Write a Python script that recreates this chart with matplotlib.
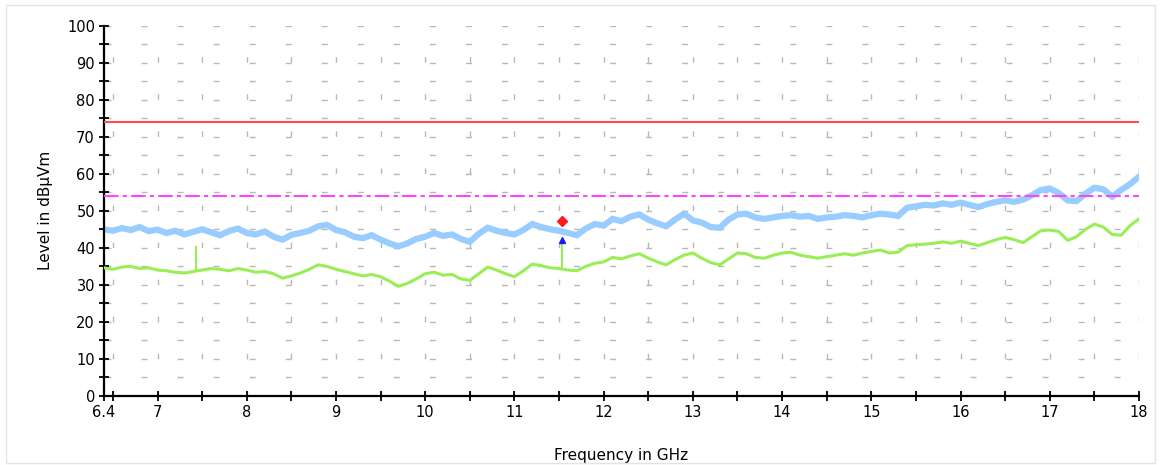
#!/usr/bin/env python3

import numpy as np
import matplotlib.pyplot as plt
from matplotlib.patches import Rectangle

# frequency grid of the read-off values (GHz)
freq = np.round(np.arange(6.4, 18.0001, 0.1), 1)

# peak trace (light blue), dBuV/m
peak = [45.0, 44.6, 45.3, 44.8, 45.6, 44.5, 44.9, 44.0, 44.6, 43.6,
        44.3, 45.0, 44.2, 43.4, 44.5, 45.2, 44.0, 43.6, 44.4, 43.0,
        42.2, 43.5, 44.0, 44.6, 45.8, 46.2, 44.8, 44.2, 43.0, 42.6,
        43.4, 42.2, 41.2, 40.4, 41.2, 42.4, 43.0, 44.0, 43.2, 43.6,
        42.4, 41.6, 43.8, 45.4, 44.6, 44.0, 43.6, 44.8, 46.4, 45.6,
        45.0, 44.6, 44.0, 43.4, 45.2, 46.4, 46.0, 47.8, 47.2, 48.4,
        49.0, 47.6, 46.6, 45.8, 47.6, 49.2, 47.4, 46.8, 45.6, 45.4,
        47.6, 49.0, 49.2, 48.2, 47.8, 48.2, 48.6, 48.8, 48.4, 48.6,
        47.8, 48.2, 48.4, 48.8, 48.6, 48.2, 48.8, 49.2, 49.0, 48.6,
        50.8, 51.2, 51.6, 51.4, 52.0, 51.6, 52.2, 51.6, 51.0, 51.8,
        52.4, 52.8, 52.4, 53.0, 54.2, 55.6, 56.0, 54.8, 52.8, 52.6,
        54.6, 56.2, 55.8, 53.8, 55.6, 57.2, 59.2]

# average trace (green), dBuV/m
average = [34.6, 34.2, 34.8, 35.0, 34.4, 34.6, 34.0, 33.8, 33.4, 33.2,
           33.6, 34.0, 34.4, 34.2, 33.8, 34.4, 34.0, 33.4, 33.6, 33.0,
           31.8, 32.4, 33.2, 34.2, 35.4, 35.0, 34.2, 33.6, 33.0, 32.4,
           32.8, 32.2, 31.0, 29.6, 30.4, 31.6, 33.0, 33.4, 32.6, 32.8,
           31.6, 31.2, 33.0, 34.8, 34.0, 33.0, 32.2, 33.8, 35.6, 35.2,
           34.6, 34.4, 34.0, 33.8, 35.0, 35.8, 36.2, 37.4, 37.0, 37.8,
           38.4, 37.2, 36.2, 35.4, 36.8, 38.0, 38.6, 37.2, 36.0, 35.4,
           37.0, 38.6, 38.4, 37.4, 37.2, 38.0, 38.6, 38.8, 38.0, 37.6,
           37.2, 37.6, 38.0, 38.4, 38.0, 38.6, 39.0, 39.4, 38.6, 38.8,
           40.6, 40.8, 41.0, 41.2, 41.6, 41.2, 41.8, 41.2, 40.6, 41.4,
           42.2, 42.8, 42.2, 41.4, 43.0, 44.6, 44.8, 44.4, 42.0, 43.0,
           45.0, 46.4, 45.6, 43.6, 43.4, 46.0, 47.8]

# narrow spikes on the average trace
spike_freq = [7.43, 11.53]
spike_base = [33.8, 34.2]
spike_top = [40.6, 41.5]

# limits
peak_limit = 74
avg_limit = 54

# final measurement markers
mark_freq = 11.53
mark_peak = 47.3
mark_avg = 42.0

xticks = [6.4, 7, 8, 9, 10, 11, 12, 13, 14, 15, 16, 17, 18]
xticklabels = ['6.4', '7', '8', '9', '10', '11', '12', '13', '14', '15', '16', '17', '18']

fig = plt.figure(figsize=(11.61, 4.65), dpi=100)
ax = fig.add_axes([104 / 1161, 1 - 396 / 465, (1139 - 104) / 1161, (396 - 25.5) / 465])
fig.patches.append(Rectangle((6 / 1161, 2 / 465), 1149 / 1161, 458 / 465,
                             transform=fig.transFigure, fill=False,
                             edgecolor='#e4e4e4', linewidth=1))

ax.set_xlim(6.4, 18)
ax.set_ylim(0, 100)

# sparse dashed grid like the receiver software
for x in np.arange(6.5, 18.01, 0.5):
    ax.axvline(x, color='#b8b8b8', linewidth=1, zorder=0,
               linestyle=(0, (4.0, 22.7)))
for y in range(5, 101, 5):
    ax.axhline(y, color='#b8b8b8', linewidth=1, zorder=0,
               linestyle=(25.2, (4.3, 21.65)))

ax.plot(freq, peak, color='#99ccff', linewidth=4.5, solid_joinstyle='miter', zorder=2)
ax.plot(freq, average, color='#99ee55', linewidth=2.2, zorder=3)
ax.vlines(spike_freq, spike_base, spike_top, color='#99ee55', linewidth=1.5, zorder=3)

ax.axhline(peak_limit, color='#ff4d4d', linewidth=1.5, zorder=4)
ax.axhline(avg_limit, color='#ff44ff', linewidth=1.5, zorder=4,
           linestyle=(0, (7, 2, 2, 2)))

ax.plot([mark_freq], [mark_peak], marker='D', color='#ff1a1a', markersize=5, zorder=5)
ax.plot([mark_freq], [mark_avg], marker='^', color='#1a1aff', markersize=5, zorder=5)

ax.spines['top'].set_visible(False)
ax.spines['right'].set_visible(False)
ax.spines['left'].set_linewidth(1.6)
ax.spines['bottom'].set_linewidth(1.6)

ax.set_xticks(xticks)
ax.set_xticklabels(xticklabels)
ax.set_xticks(np.arange(6.5, 18.01, 0.5), minor=True)
ax.set_yticks(range(0, 101, 10))
ax.set_yticks(range(5, 100, 10), minor=True)
ax.tick_params(which='both', direction='inout', length=7, width=1.3, color='black',
               labelsize=10.5, pad=3)

ax.set_xlabel('Frequency in GHz', fontsize=11, labelpad=20)
ax.set_ylabel('Level in dBµVm', fontsize=11, labelpad=10)

fig.savefig('out.png', dpi=100)
